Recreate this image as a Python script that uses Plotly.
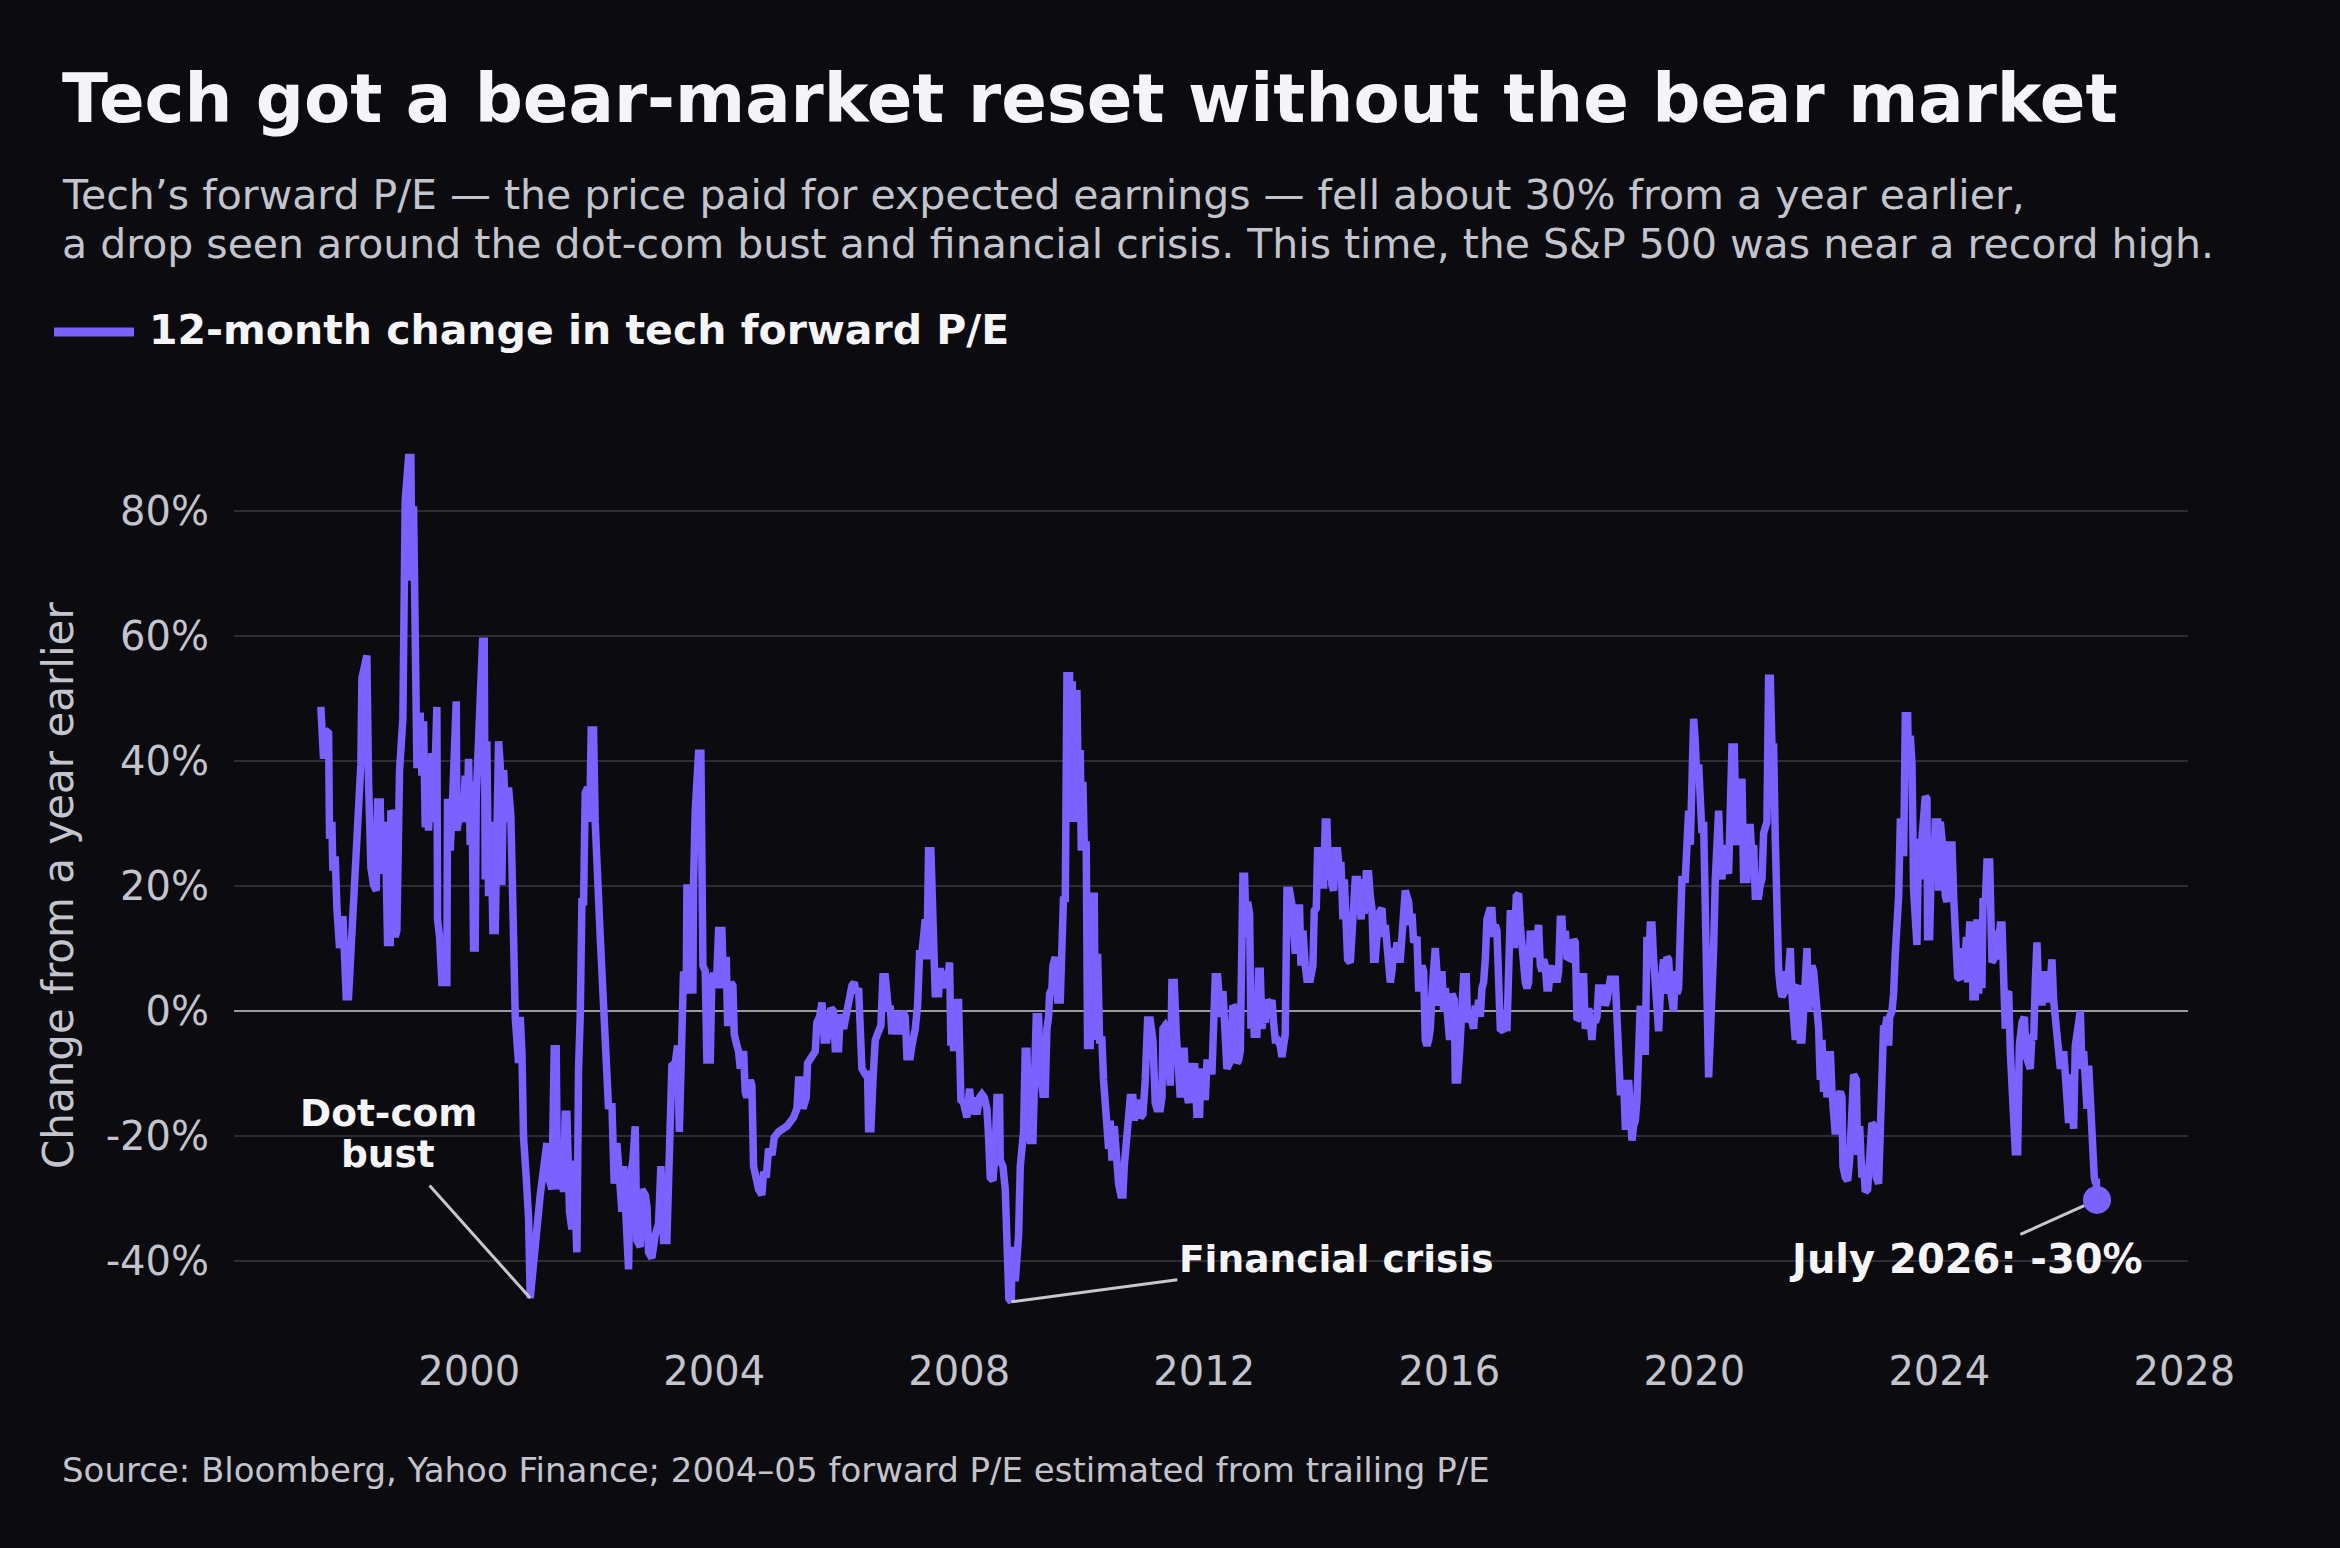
# Tech forward P/E, 12-month change — dark single-line chart with three callouts
import plotly.graph_objects as go

# ── Data ──────────────────────────────────────────────────────────────────────
years = [
    1997.578, 1997.595, 1997.622, 1997.649, 1997.704, 1997.720, 1997.758, 1997.774, 1997.812, 1997.840,
    1997.883, 1997.938, 1997.992, 1998.030, 1998.085, 1998.139, 1998.193, 1998.231, 1998.248, 1998.302,
    1998.329, 1998.357, 1998.395, 1998.438, 1998.482, 1998.504, 1998.547, 1998.574, 1998.629, 1998.667,
    1998.710, 1998.721, 1998.765, 1998.792, 1998.819, 1998.863, 1998.901, 1998.917, 1998.955, 1999.010,
    1999.048, 1999.064, 1999.091, 1999.118, 1999.146, 1999.173, 1999.200, 1999.227, 1999.255, 1999.282,
    1999.309, 1999.336, 1999.391, 1999.418, 1999.445, 1999.472, 1999.483, 1999.516, 1999.554, 1999.635,
    1999.646, 1999.690, 1999.733, 1999.761, 1999.788, 1999.799, 1999.853, 1999.897, 1999.935, 1999.962,
    1999.989, 2000.016, 2000.044, 2000.071, 2000.098, 2000.114, 2000.152, 2000.180, 2000.218, 2000.245,
    2000.261, 2000.288, 2000.316, 2000.354, 2000.387, 2000.425, 2000.441, 2000.479, 2000.506, 2000.533,
    2000.561, 2000.604, 2000.642, 2000.680, 2000.724, 2000.751, 2000.805, 2000.833, 2000.860, 2000.887,
    2000.931, 2000.969, 2000.996, 2001.050, 2001.159, 2001.268, 2001.295, 2001.350, 2001.388, 2001.420,
    2001.442, 2001.486, 2001.540, 2001.567, 2001.595, 2001.638, 2001.676, 2001.703, 2001.731, 2001.758,
    2001.785, 2001.812, 2001.840, 2001.867, 2001.894, 2001.932, 2001.965, 2001.992, 2002.030, 2002.057,
    2002.139, 2002.220, 2002.275, 2002.329, 2002.367, 2002.411, 2002.465, 2002.493, 2002.520, 2002.547,
    2002.574, 2002.601, 2002.629, 2002.672, 2002.710, 2002.737, 2002.792, 2002.819, 2002.874, 2002.901,
    2002.928, 2002.982, 2003.037, 2003.091, 2003.129, 2003.173, 2003.227, 2003.254, 2003.282, 2003.309,
    2003.363, 2003.401, 2003.430,
    2003.472, 2003.499, 2003.543, 2003.554, 2003.597, 2003.625, 2003.652, 2003.663, 2003.690, 2003.744,
    2003.782, 2003.815, 2003.853, 2003.880, 2003.935, 2003.962, 2003.989, 2004.033, 2004.071, 2004.125,
    2004.152, 2004.196, 2004.218, 2004.250, 2004.272, 2004.305, 2004.327, 2004.370, 2004.397, 2004.425,
    2004.479, 2004.506, 2004.533, 2004.588, 2004.615, 2004.642, 2004.686, 2004.724, 2004.778, 2004.806,
    2004.849, 2004.887, 2004.942, 2004.980, 2005.050, 2005.186, 2005.295, 2005.350, 2005.377, 2005.415,
    2005.448, 2005.502, 2005.524, 2005.595, 2005.649, 2005.676, 2005.720, 2005.758, 2005.796, 2005.839,
    2005.867, 2005.905, 2005.948, 2005.976, 2006.030, 2006.057, 2006.112, 2006.166, 2006.220, 2006.248,
    2006.286, 2006.318, 2006.357, 2006.384, 2006.411, 2006.465, 2006.503, 2006.520, 2006.558, 2006.591,
    2006.629, 2006.699, 2006.721, 2006.754, 2006.792, 2006.819, 2006.846, 2006.873, 2006.901, 2006.928,
    2006.972, 2007.009, 2007.037, 2007.080, 2007.118, 2007.146, 2007.200, 2007.227, 2007.254, 2007.282,
    2007.320, 2007.352, 2007.390, 2007.418, 2007.445, 2007.472, 2007.499, 2007.537, 2007.565, 2007.592,
    2007.608, 2007.663, 2007.690, 2007.717, 2007.772, 2007.799, 2007.842, 2007.864, 2007.897, 2007.908,
    2007.935, 2007.989, 2008.006, 2008.027, 2008.071, 2008.125, 2008.169, 2008.207, 2008.234, 2008.288,
    2008.332, 2008.370, 2008.408, 2008.452, 2008.479, 2008.506, 2008.550, 2008.588, 2008.615, 2008.658,
    2008.669, 2008.713, 2008.751, 2008.778, 2008.810, 2008.850, 2008.862, 2008.887, 2008.914, 2008.941,
    2008.969, 2008.996, 2009.023, 2009.050, 2009.077, 2009.105, 2009.132, 2009.159, 2009.203, 2009.225,
    2009.257, 2009.295, 2009.322, 2009.366, 2009.404, 2009.431, 2009.458, 2009.475, 2009.513, 2009.529,
    2009.567, 2009.605, 2009.649,
    2009.703, 2009.731, 2009.758, 2009.801, 2009.823, 2009.845, 2009.867, 2009.894, 2009.921, 2009.948,
    2009.976, 2009.992, 2010.019, 2010.041, 2010.073, 2010.095, 2010.139, 2010.166, 2010.204, 2010.220,
    2010.259, 2010.291, 2010.329, 2010.356, 2010.384, 2010.411, 2010.438, 2010.465, 2010.493, 2010.531,
    2010.563, 2010.601, 2010.639, 2010.672, 2010.694, 2010.727, 2010.765, 2010.792, 2010.835, 2010.857,
    2010.890, 2010.928, 2010.955, 2010.999, 2011.037, 2011.075, 2011.118, 2011.162, 2011.200, 2011.227,
    2011.282, 2011.309, 2011.325, 2011.363, 2011.390, 2011.418, 2011.445, 2011.472, 2011.510, 2011.543,
    2011.581, 2011.608, 2011.635, 2011.673, 2011.706, 2011.744, 2011.771, 2011.815, 2011.842, 2011.880,
    2011.924, 2011.946, 2011.978, 2012.016, 2012.043, 2012.087, 2012.125, 2012.152, 2012.180, 2012.218,
    2012.250, 2012.272, 2012.305, 2012.343, 2012.370, 2012.413, 2012.435, 2012.468, 2012.506, 2012.533,
    2012.561, 2012.588, 2012.604, 2012.631, 2012.658, 2012.686, 2012.707, 2012.740, 2012.762, 2012.795,
    2012.816, 2012.860, 2012.887, 2012.914, 2012.941, 2012.969, 2012.996, 2013.023, 2013.078, 2013.105,
    2013.132, 2013.159, 2013.197, 2013.241, 2013.268, 2013.295, 2013.322, 2013.350, 2013.393, 2013.431,
    2013.458, 2013.486, 2013.513, 2013.556, 2013.578, 2013.611, 2013.649, 2013.676, 2013.731, 2013.774,
    2013.796, 2013.829, 2013.850, 2013.894, 2013.921, 2013.948, 2013.976, 2014.003, 2014.030, 2014.057,
    2014.084, 2014.111, 2014.139, 2014.177, 2014.209, 2014.231, 2014.264, 2014.286, 2014.318, 2014.340,
    2014.384, 2014.411, 2014.438, 2014.465, 2014.503, 2014.536, 2014.563, 2014.590, 2014.612, 2014.645,
    2014.683, 2014.710, 2014.737, 2014.765, 2014.792, 2014.819, 2014.846, 2014.901, 2014.928, 2014.955,
    2014.982, 2015.009, 2015.037, 2015.064, 2015.091, 2015.118, 2015.146, 2015.173, 2015.200, 2015.227,
    2015.254, 2015.282, 2015.309, 2015.336, 2015.363, 2015.391, 2015.418, 2015.472, 2015.499, 2015.527,
    2015.554, 2015.581, 2015.608, 2015.635, 2015.663, 2015.690, 2015.717, 2015.744, 2015.771, 2015.798,
    2015.826,
    2015.880, 2015.907, 2015.935, 2015.973, 2016.005, 2016.043, 2016.082, 2016.098, 2016.136, 2016.169,
    2016.190, 2016.234, 2016.277, 2016.299, 2016.332, 2016.370, 2016.397, 2016.424, 2016.452, 2016.479,
    2016.506, 2016.533, 2016.560, 2016.588, 2016.615, 2016.658, 2016.697, 2016.724, 2016.751, 2016.778,
    2016.805, 2016.833, 2016.887, 2016.914, 2016.941, 2016.969, 2016.996, 2017.039, 2017.061, 2017.094,
    2017.132, 2017.159, 2017.186, 2017.214, 2017.241, 2017.268, 2017.295, 2017.322, 2017.350, 2017.404,
    2017.431, 2017.458, 2017.486, 2017.513, 2017.540, 2017.567, 2017.594, 2017.622, 2017.649, 2017.676,
    2017.703, 2017.731, 2017.758, 2017.785, 2017.812, 2017.840, 2017.867, 2017.894, 2017.921, 2017.975,
    2018.003, 2018.030, 2018.057, 2018.084, 2018.139, 2018.166, 2018.193, 2018.220, 2018.247, 2018.275,
    2018.302, 2018.329, 2018.356, 2018.384, 2018.411, 2018.438, 2018.520, 2018.547, 2018.574, 2018.601,
    2018.629, 2018.710, 2018.737, 2018.765, 2018.792, 2018.819, 2018.846, 2018.873, 2018.901, 2018.928,
    2018.955, 2018.982, 2019.009, 2019.037, 2019.064, 2019.091, 2019.118, 2019.146, 2019.200, 2019.227,
    2019.254, 2019.282, 2019.309, 2019.336, 2019.363, 2019.391, 2019.418, 2019.445, 2019.472, 2019.499,
    2019.527, 2019.554, 2019.581, 2019.608, 2019.635, 2019.663, 2019.690, 2019.717, 2019.744, 2019.771,
    2019.798, 2019.853, 2019.880, 2019.907, 2019.935, 2019.962, 2019.989, 2020.016, 2020.043, 2020.071,
    2020.098, 2020.125, 2020.152, 2020.180, 2020.207, 2020.234, 2020.261, 2020.288, 2020.316, 2020.343,
    2020.370, 2020.397, 2020.424, 2020.452, 2020.479, 2020.506, 2020.560, 2020.577, 2020.615, 2020.653,
    2020.686, 2020.724, 2020.751, 2020.778, 2020.805, 2020.860, 2020.887, 2020.914, 2020.941, 2020.969,
    2020.996, 2021.050, 2021.077, 2021.105, 2021.132, 2021.186, 2021.213, 2021.241, 2021.268, 2021.295,
    2021.322, 2021.350, 2021.377, 2021.404, 2021.431, 2021.458, 2021.486, 2021.513, 2021.540, 2021.567,
    2021.594, 2021.622, 2021.649, 2021.676, 2021.703, 2021.731, 2021.758, 2021.785, 2021.812, 2021.840,
    2021.867, 2021.894, 2021.921, 2021.948, 2021.975, 2022.003, 2022.030, 2022.057, 2022.084, 2022.111,
    2022.139, 2022.166, 2022.193, 2022.220, 2022.248, 2022.275, 2022.302, 2022.329, 2022.384,
    2022.411, 2022.427, 2022.465, 2022.503, 2022.536, 2022.574, 2022.601, 2022.645, 2022.667, 2022.699,
    2022.737, 2022.764, 2022.792, 2022.830, 2022.862, 2022.900, 2022.939, 2022.971, 2023.009, 2023.037,
    2023.064, 2023.091, 2023.118, 2023.145, 2023.173, 2023.189, 2023.227, 2023.254, 2023.281, 2023.309,
    2023.336, 2023.363, 2023.390, 2023.418, 2023.445, 2023.483, 2023.499, 2023.526, 2023.554, 2023.581,
    2023.608, 2023.635, 2023.662, 2023.690, 2023.717, 2023.744, 2023.771, 2023.798, 2023.809, 2023.842,
    2023.853, 2023.880, 2023.907, 2023.934, 2023.973, 2023.989, 2024.016, 2024.043, 2024.071, 2024.098,
    2024.125, 2024.152, 2024.207, 2024.234, 2024.250, 2024.277, 2024.299, 2024.343, 2024.370, 2024.408,
    2024.441, 2024.462, 2024.495, 2024.533, 2024.549, 2024.588, 2024.615, 2024.642, 2024.669, 2024.696,
    2024.713, 2024.751, 2024.778, 2024.822, 2024.843, 2024.860, 2024.887, 2024.914, 2024.941, 2024.968,
    2024.996, 2025.023, 2025.050, 2025.077, 2025.105, 2025.132, 2025.159, 2025.186, 2025.213, 2025.241,
    2025.279, 2025.306, 2025.350, 2025.388, 2025.420, 2025.458, 2025.485, 2025.513, 2025.540, 2025.567,
    2025.594, 2025.622, 2025.649, 2025.676, 2025.703, 2025.730, 2025.758, 2025.785, 2025.812, 2025.839,
    2025.866, 2025.894, 2025.921, 2025.948, 2025.975, 2026.003, 2026.030, 2026.057, 2026.084, 2026.111,
    2026.139, 2026.166, 2026.193, 2026.220, 2026.247, 2026.275, 2026.302, 2026.329, 2026.356, 2026.384,
    2026.411, 2026.438, 2026.465, 2026.492, 2026.508, 2026.530, 2026.552, 2026.563, 2026.574,
]

pe_change = [
    48.7, 42.3, 40.4, 45.0, 44.5, 27.6, 30.3, 22.5, 24.8, 16.5,
    10.1, 15.2, 2.3, 2.3, 13.8, 23.0, 34.0, 39.5, 53.3, 56.9,
    56.9, 36.7, 23.0, 20.2, 19.3, 33.5, 33.5, 22.0, 30.3, 11.0,
    11.0, 32.1, 31.2, 11.9, 12.9, 38.6, 44.5, 46.8, 81.7, 88.6,
    88.6, 68.9, 80.8, 57.9, 39.5, 39.5, 47.8, 37.7, 46.4, 29.4,
    38.1, 28.9, 41.3, 30.3, 48.7, 48.7, 14.7, 11.9, 4.6, 4.6,
    34.0, 25.7, 34.9, 49.6, 49.6, 28.9, 32.1, 30.3, 37.7, 30.3,
    40.4, 26.6, 36.7, 10.1, 10.1, 34.0, 43.2, 52.4, 59.2, 59.2,
    21.1, 43.2, 18.4, 30.3, 12.9, 12.9, 23.0, 43.2, 39.5, 20.2,
    38.6, 30.3, 35.8, 31.2, 11.9, -0.9, -8.3, -0.9, -6.4, -20.2,
    -26.6, -33.1, -45.9, -39.5, -29.4, -21.1, -26.6, -28.5, -6.0, -6.0,
    -28.5, -23.9, -28.9, -16.5, -16.5, -32.1, -34.9, -23.9, -38.6, -38.6,
    -9.2, -0.9, 17.5, 17.5, 34.9, 35.8, 30.3, 45.0, 45.0, 30.3,
    11.9, -6.4, -15.6, -14.7, -27.6, -21.1, -26.6, -32.1, -24.8, -30.3,
    -37.7, -41.3, -26.6, -23.9, -18.4, -36.7, -37.7, -28.5, -29.4, -31.2,
    -38.6, -39.5, -35.8, -34.0, -24.8, -36.7, -36.7, -27.6, -26.6, -8.7,
    -8.3, -5.5, -19.3,
    -4.6, 6.4, 2.8, 19.7, 19.7, 2.8, 2.8, 21.1, 32.1, 41.3,
    41.3, 7.3, 6.4, -7.8, -7.8, 5.5, 6.0, 3.7, 12.9, 12.9,
    3.7, 8.7, -1.8, -1.8, 4.6, 4.1, -3.7, -5.5, -6.4, -9.2,
    -6.4, -12.9, -13.8, -11.0, -11.9, -24.8, -26.6, -28.5, -29.4, -25.7,
    -26.6, -22.0, -23.0, -20.2, -19.3, -18.4, -17.0, -15.6, -11.0, -11.0,
    -15.6, -13.8, -8.3, -7.3, -6.4, -1.8, -0.9, 1.4, -4.6, -4.6,
    -0.9, 0.5, 0.0, -6.0, -6.0, -0.5, -2.8, 0.0, 1.8, 4.1,
    4.6, 2.8, 3.7, -0.9, -9.2, -10.1, -10.1, -18.8, -18.8, -11.0,
    -4.6, -2.8, -2.3, 5.5, 5.5, 2.8, 0.0, 0.9, -3.7, 0.0,
    -3.7, 0.0, -3.7, 0.0, -0.9, -7.3, -7.3, -5.5, -4.6, -2.8,
    0.9, 9.2, 9.2, 13.8, 14.7, 8.3, 25.7, 25.7, 13.8, 13.8,
    2.8, 2.8, 6.9, 3.7, 6.4, 3.7, 7.8, -5.5, 0.0, -6.4,
    1.4, 1.4, -6.4, -14.2, -14.7, -17.0, -12.4, -16.5, -13.8, -16.5,
    -13.8, -13.3, -13.8, -15.6, -20.2, -26.6, -27.1, -22.0, -13.8, -13.8,
    -23.9, -24.8, -28.5, -43.2, -46.0, -46.5, -37.7, -40.4, -43.2, -39.5,
    -35.8, -24.8, -20.2, -19.3, -6.4, -6.4, -17.5, -20.7, -20.7, -13.8,
    -0.9, -0.9, -9.2, -13.3, -13.3, -2.8, -0.9, 2.8, 3.7, 7.3,
    8.7, 1.8, 1.8,
    18.4, 17.5, 53.7, 53.7, 30.3, 52.8, 30.3, 51.4, 51.4, 30.3,
    41.8, 25.7, 36.7, 26.6, 26.6, -5.5, -5.5, 18.4, 18.4, -4.6,
    9.2, -4.6, -4.6, -11.0, -14.7, -22.0, -22.0, -17.5, -23.9, -18.4,
    -24.8, -27.6, -29.4, -29.4, -24.8, -21.1, -19.3, -13.8, -13.8, -17.5,
    -14.7, -14.7, -17.0, -16.5, -11.0, -1.4, -1.4, -4.6, -14.7, -15.6,
    -15.6, -13.8, -2.8, -2.3, -2.8, -11.9, -11.9, 4.6, 4.6, -3.7,
    -11.0, -13.8, -6.4, -6.4, -12.9, -14.7, -8.3, -14.7, -8.3, -16.5,
    -16.5, -9.2, -11.0, -14.2, -8.3, -8.3, -10.1, -4.6, 5.5, 5.5,
    2.8, -0.9, 3.2, -4.6, -9.2, -8.3, 0.0, 0.9, 0.5, -8.3,
    -7.8, -6.4, 11.9, 21.6, 21.6, 11.9, 17.5, 15.6, -2.8, 2.8,
    -3.7, -3.7, 6.4, 6.4, -2.8, -0.9, -1.8, 1.8, 0.9, 1.8,
    -1.8, -4.6, -4.6, -5.5, -7.3, -5.5, -3.7, 19.3, 19.3, 17.0,
    9.2, 9.2, 16.5, 16.5, 7.3, 12.9, 7.3, 5.1, 5.1, 7.3,
    16.1, 16.5, 25.7, 25.7, 20.2, 20.2, 30.3, 30.3, 21.1, 24.8,
    20.2, 19.3, 25.7, 25.7, 22.0, 23.9, 14.7, 21.1, 13.8, 8.3,
    7.8, 12.9, 14.7, 21.1, 21.1, 17.5, 14.7, 21.1, 15.6, 22.0,
    22.0, 18.4, 16.5, 8.3, 8.3, 11.9, 15.6, 16.5, 11.9, 13.8,
    11.0, 5.5, 4.6, 6.4, 10.1, 8.3, 11.0, 8.3, 8.3, 11.9,
    16.5, 19.3, 18.4, 17.5, 13.8, 15.6, 11.0, 11.9, 3.7, 3.7,
    7.3, 6.4, -4.6, -5.5, -4.6, -2.8, 2.8, 10.1, 10.1, 6.4,
    0.9,
    6.4, 0.0, 3.7, -0.9, -4.6, 2.8, 1.8, -11.0, -11.0, -6.4,
    -1.8, 5.5, 5.5, -1.8, 0.0, -2.8, -2.8, 0.9, -0.9, 1.8,
    -0.9, 3.7, 4.6, 8.3, 14.7, 16.1, 16.1, 11.9, 13.8, 12.9,
    1.8, -2.8, -3.2, 0.0, -3.2, 6.4, 15.6, 15.6, 10.1, 18.4,
    18.8, 13.8, 10.1, 6.4, 4.6, 3.7, 4.6, 12.9, 9.2, 9.2,
    13.8, 13.8, 7.3, 6.4, 8.3, 7.3, 3.7, 3.7, 6.4, 7.3,
    4.6, 6.9, 4.6, 6.4, 14.7, 14.7, 9.2, 12.9, 8.7, 8.3,
    8.3, 11.5, 11.0, -1.4, -0.9, 5.5, 5.5, -2.8, -1.8, 0.5,
    -3.7, -4.6, -0.9, -1.8, -0.9, 3.7, 3.7, 0.9, 1.8, 3.7,
    5.1, 5.1, -2.8, -8.3, -12.9, -12.9, -11.0, -18.4, -18.4, -11.0,
    -20.2, -20.7, -18.4, -17.5, -14.2, 0.0, 0.9, -6.4, -6.4, 11.9,
    7.8, 13.8, 13.8, 8.3, 2.8, -3.2, -3.2, 2.8, 8.3, 8.3,
    2.8, 8.7, 8.3, 3.7, 0.0, 0.0, 6.4, 2.8, 3.7, 14.7,
    21.1, 21.1, 32.1, 32.1, 26.6, 46.8, 46.8, 43.2, 36.7, 39.5,
    30.3, 28.5, 30.3, 11.0, -10.6, -10.6, -4.1, 9.2, 10.1, 21.1,
    32.1, 32.1, 24.8, 21.1, 26.6, 23.9, 22.0, 34.0, 42.3, 42.3,
    26.6, 34.0, 35.8, 37.2, 21.1, 21.1, 29.4, 29.4, 24.8, 26.6,
    18.4, 18.4, 20.2, 21.1, 28.5, 30.3, 53.3, 53.3, 42.3, 42.3,
    27.6, 8.3, 6.4, 3.7, 2.3, 2.8, 6.4, 2.8, 10.1, 10.1,
    2.8, -4.6, -4.6, 3.7, 4.1, -4.6, -4.6, 0.0, 10.1, 10.1,
    0.0, 7.3, 7.3, 6.4, 2.8, 1.8, -2.8, -11.0, -4.6, -12.9,
    -6.4, -13.8, -6.4, -6.4, -12.9, -19.7, -19.7, -13.8, -12.9,
    -13.8, -24.8, -26.6, -27.1, -23.9, -17.5, -10.1, -11.0, -23.0, -18.4,
    -26.6, -24.8, -28.9, -28.5, -21.1, -17.9, -18.4, -26.6, -27.6, -15.6,
    -4.6, -2.3, -2.8, -0.9, -5.5, -0.9, 0.0, 2.8, 9.2, 13.8,
    18.4, 30.3, 30.3, 24.8, 47.3, 47.3, 37.7, 44.1, 39.5, 19.3,
    10.6, 10.6, 27.6, 21.1, 27.6, 33.1, 34.4, 34.0, 11.9, 11.9,
    24.8, 27.6, 21.1, 30.3, 30.3, 19.3, 30.3, 28.5, 24.8, 18.4,
    17.5, 26.6, 26.6, 18.4, 12.9, 12.9, 5.5, 5.1, 10.1, 5.1,
    11.9, 4.6, 13.8, 13.8, 2.3, 2.3, 14.7, 2.8, 13.8, 3.7,
    17.5, 17.5, 23.9, 23.9, 13.8, 7.8, 8.3, 12.9, 8.3, 12.9,
    13.8, 13.8, 2.8, -2.8, 2.8, 3.2, -6.4, -12.9, -17.5, -22.5,
    -22.5, -5.5, -1.8, -0.9, -7.3, -9.2, -9.2, -3.7, -4.6, 4.6,
    11.0, 2.8, 6.4, 0.9, 6.4, 1.8, 6.4, 1.4, 6.4, 8.3,
    1.8, -1.8, -4.6, -6.4, -9.2, -8.3, -6.4, -10.1, -17.5, -17.9,
    -10.1, -17.5, -18.8, -5.5, -3.7, 0.0, 0.0, -9.2, -6.4, -11.0,
    -15.6, -8.7, -15.6, -16.5, -24.8, -26.6, -27.6, -26.8, -30.2,
]

x_ticks = [2000, 2004, 2008, 2012, 2016, 2020, 2024, 2028]
y_ticks = [-40, -20, 0, 20, 40, 60, 80]
y_tick_text = [f"{v}%" for v in y_ticks]

title_text = "Tech got a bear-market reset without the bear market"
subtitle_lines = [
    "Tech’s forward P/E — the price paid for expected earnings — fell about 30% from a year earlier,",
    "a drop seen around the dot-com bust and financial crisis. This time, the S&P 500 was near a record high.",
]
legend_text = "12-month change in tech forward P/E"
y_title = "Change from a year earlier"
source_text = "Source: Bloomberg, Yahoo Finance; 2004–05 forward P/E estimated from trailing P/E"

# ── Style ─────────────────────────────────────────────────────────────────────
BG = "#0b0b10"
PURPLE = "#7b61ff"
WHITE = "#f5f5f7"
GREY = "#c4c4cc"
GRID = "#2c2c34"
FONT = "DejaVu Sans"

W, H = 2340, 1548
L, R, T, B = 234, 152, 416, 204


def paper_x(px):
    return (px - L) / (W - L - R)


def paper_y(py):
    return (H - B - py) / (H - T - B)


def text_note(text, px, py, size, color=WHITE, xanchor="left", **extra):
    return dict(text=text, x=paper_x(px), y=paper_y(py), xref="paper", yref="paper",
                xanchor=xanchor, yanchor="middle", showarrow=False,
                font=dict(family=FONT, size=size, color=color), **extra)


# points for the callouts
dot_idx = min(range(len(years)), key=lambda i: pe_change[i] if years[i] < 2003 else 999)
gfc_idx = min(range(len(years)), key=lambda i: pe_change[i] if 2007 < years[i] < 2010 else 999)

fig = go.Figure()

fig.add_trace(go.Scatter(
    x=years, y=pe_change,
    mode="lines",
    line=dict(color=PURPLE, width=7.5),
    hoverinfo="skip",
    showlegend=False,
))

fig.add_trace(go.Scatter(
    x=[years[-1]], y=[pe_change[-1]],
    mode="markers",
    marker=dict(color=PURPLE, size=28),
    hoverinfo="skip",
    showlegend=False,
))

arrow_style = dict(showarrow=True, arrowhead=0, arrowwidth=3, arrowcolor="#c8c8cc",
                   axref="pixel", ayref="pixel", xanchor="center", yanchor="middle")

annotations = [
    # headline block
    text_note(f"<b>{title_text}</b>", 60, 99, 67.3),
    text_note(subtitle_lines[0], 60, 195, 41, GREY),
    text_note(subtitle_lines[1], 60, 244, 41, GREY),
    text_note(f"<b>{legend_text}</b>", 147, 330, 41),
    text_note(y_title, 58, 886, 42, GREY, xanchor="center", textangle=-90),
    text_note(source_text, 60, 1470, 34, GREY),
    # callouts
    dict(text="", x=years[dot_idx], y=pe_change[dot_idx], ax=-102, ay=-114, **arrow_style),
    text_note("<b>Dot-com</b>", 388, 1113, 37.5, xanchor="center"),
    text_note("<b>bust</b>", 388, 1154, 37.5, xanchor="center"),
    dict(text="<b>Financial crisis</b>", x=years[gfc_idx], y=pe_change[gfc_idx], ax=325, ay=-43,
         font=dict(family=FONT, size=37.5, color=WHITE), **arrow_style),
    dict(text="<b>July 2026: -30%</b>", x=years[-1], y=pe_change[-1], ax=-131, ay=59, standoff=14,
         font=dict(family=FONT, size=40, color=WHITE), **arrow_style),
]

fig.update_layout(
    width=W, height=H,
    margin=dict(l=L, r=R, t=T, b=B, pad=0),
    paper_bgcolor=BG,
    plot_bgcolor=BG,
    font=dict(family=FONT, color=GREY),
    annotations=annotations,
    shapes=[dict(type="line", xref="paper", yref="paper",
                 x0=paper_x(54), x1=paper_x(134), y0=paper_y(332), y1=paper_y(332),
                 line=dict(color=PURPLE, width=9))],
    xaxis=dict(
        range=[1996.16, 2028.06],
        tickvals=x_ticks,
        ticks="",
        showgrid=False,
        zeroline=False,
        showline=False,
        tickfont=dict(family=FONT, size=40, color=GREY),
    ),
    yaxis=dict(
        range=[-53.25, 95.25],
        tickvals=y_ticks,
        ticktext=y_tick_text,
        ticks="",
        showgrid=True,
        gridcolor=GRID,
        gridwidth=2,
        zeroline=True,
        zerolinecolor="#9a9aa2",
        zerolinewidth=2,
        showline=False,
        ticklabelstandoff=24,
        tickfont=dict(family=FONT, size=40, color=GREY),
    ),
)

fig.write_html(
    "out.html",
    config={"displayModeBar": False},
    post_script="document.body.style.margin='0';document.body.style.backgroundColor='#0b0b10';",
)
